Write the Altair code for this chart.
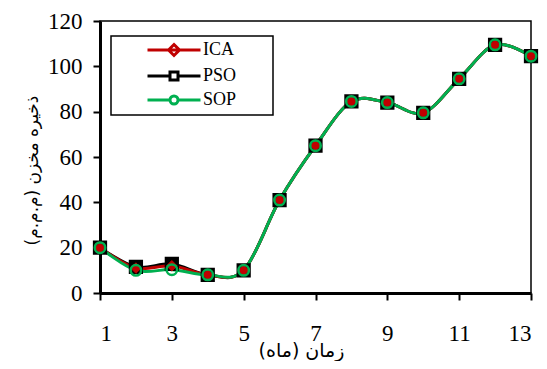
import altair as alt
import pandas as pd

# ---- data ----
months = [1, 2, 3, 4, 5, 6, 7, 8, 9, 10, 11, 12, 13]
ica = [20, 11, 12, 8, 10, 41, 65, 84.5, 84, 79.5, 94.5, 109.5, 104.5]
pso = [20, 11.5, 12.8, 8, 10, 41, 65, 84.5, 84, 79.5, 94.5, 109.5, 104.5]
sop = [20, 10, 10.3, 8, 10, 41, 65, 84.5, 84, 79.5, 94.5, 109.5, 104.5]
series_names = ["ICA", "PSO", "SOP"]
x_ticks = [1, 3, 5, 7, 9, 11, 13]
y_ticks = [0, 20, 40, 60, 80, 100, 120]
x_title = "\u200fزمان (ماه)\u200f"
y_title = "\u200fذخیره مخزن (م.م.م)\u200f"

rows = []
for name, vals in zip(series_names, [ica, pso, sop]):
    for m, v in zip(months, vals):
        rows.append({"month": m, "value": v, "series": name})
df = pd.DataFrame(rows)

colors = {"ICA": "#C00000", "PSO": "#000000", "SOP": "#00B050"}

X = alt.X("month:Q", scale=alt.Scale(domain=[1, 13], nice=False, zero=False),
          axis=alt.Axis(values=x_ticks, title=x_title, grid=False, tickSize=7,
                        tickWidth=2, domainWidth=3, labelPadding=22,
                        titleBaseline="alphabetic", titleY=63, titleX=201))
Y = alt.Y("value:Q", scale=alt.Scale(domain=[0, 120], nice=False),
          axis=alt.Axis(values=y_ticks, title=y_title, grid=False, tickSize=7,
                        tickWidth=2, domainWidth=3, labelPadding=11, titlePadding=6,
                        titleY=149, titleFontSize=17))

base = alt.Chart(df)

lines = []
for name in ["PSO", "ICA", "SOP"]:
    lines.append(
        base.transform_filter(alt.datum.series == name)
        .mark_line(interpolate="cardinal", color=colors[name], strokeWidth=3)
        .encode(x=X, y=Y)
    )

pts_pso = base.transform_filter(alt.datum.series == "PSO").mark_point(
    shape="square", size=150, filled=True, fill="#000000", stroke="#000000",
    strokeWidth=2, opacity=1).encode(x=X, y=Y)
pts_ica = base.transform_filter(alt.datum.series == "ICA").mark_point(
    shape="diamond", size=110, filled=True, fill="#C00000", stroke="#C00000",
    strokeWidth=1, opacity=1).encode(x=X, y=Y)
pts_sop = base.transform_filter(alt.datum.series == "SOP").mark_point(
    shape="circle", size=110, filled=False, stroke="#00B050",
    strokeWidth=2.5, opacity=1).encode(x=X, y=Y)

# legend-only layer (invisible marks; legend symbols are line + marker).
p_ica = "M-5.3,0H5.3M0,-1.1L1.1,0L0,1.1L-1.1,0Z"
p_pso = "M-5.3,0H-0.8M0.8,0H5.3M-0.8,-0.8H0.8V0.8H-0.8Z"
p_sop = "M-5.3,0H-0.8M0.8,0H5.3M0.8,0A0.8,0.8,0,1,1,-0.8,0A0.8,0.8,0,1,1,0.8,0Z"
# a blank (braille-blank) title on the right only widens the legend box
leg = alt.Legend(title="\u2800\u2800", orient="none", legendX=11, legendY=15,
                 titleOrient="right", titlePadding=3, titleFontSize=18,
                 titleFont="DejaVu Sans", titleOpacity=0)
legend_layer = base.mark_point(opacity=0, strokeWidth=3).encode(
    x=X, y=Y,
    color=alt.Color("series:N", scale=alt.Scale(domain=series_names,
                    range=[colors["ICA"], colors["PSO"], colors["SOP"]]), legend=leg),
    fill=alt.Fill("series:N", scale=alt.Scale(domain=series_names,
                  range=[colors["ICA"], "#ffffff", "#ffffff"]), legend=leg),
    shape=alt.Shape("series:N", scale=alt.Scale(domain=series_names,
                    range=[p_ica, p_pso, p_sop]), legend=leg),
)

chart = alt.layer(*lines, pts_pso, pts_ica, pts_sop, legend_layer).properties(
    width=431, height=272,
    autosize=alt.AutoSizeParams(type="none"),
    padding={"left": 92, "top": 13, "right": 8, "bottom": 68},
).configure_view(
    stroke="#000000", strokeWidth=1.5
).configure_axis(
    domainColor="#000000", tickColor="#000000", labelColor="#000000",
    titleColor="#000000", labelFont="Liberation Sans Narrow", labelFontSize=23,
    titleFont="DejaVu Sans", titleFontSize=19, titleFontWeight="normal",
) .configure_legend(
    padding=5, strokeColor="#000000", fillColor="#ffffff", strokeWidth=1.5,
    symbolSize=100, symbolStrokeWidth=3, symbolOffset=49, labelOffset=20,
    labelFont="Liberation Serif", labelFontSize=18, labelColor="#000000",
    rowPadding=4, cornerRadius=0,
)

chart.save("out.html", embed_options={"renderer": "svg", "actions": False})
